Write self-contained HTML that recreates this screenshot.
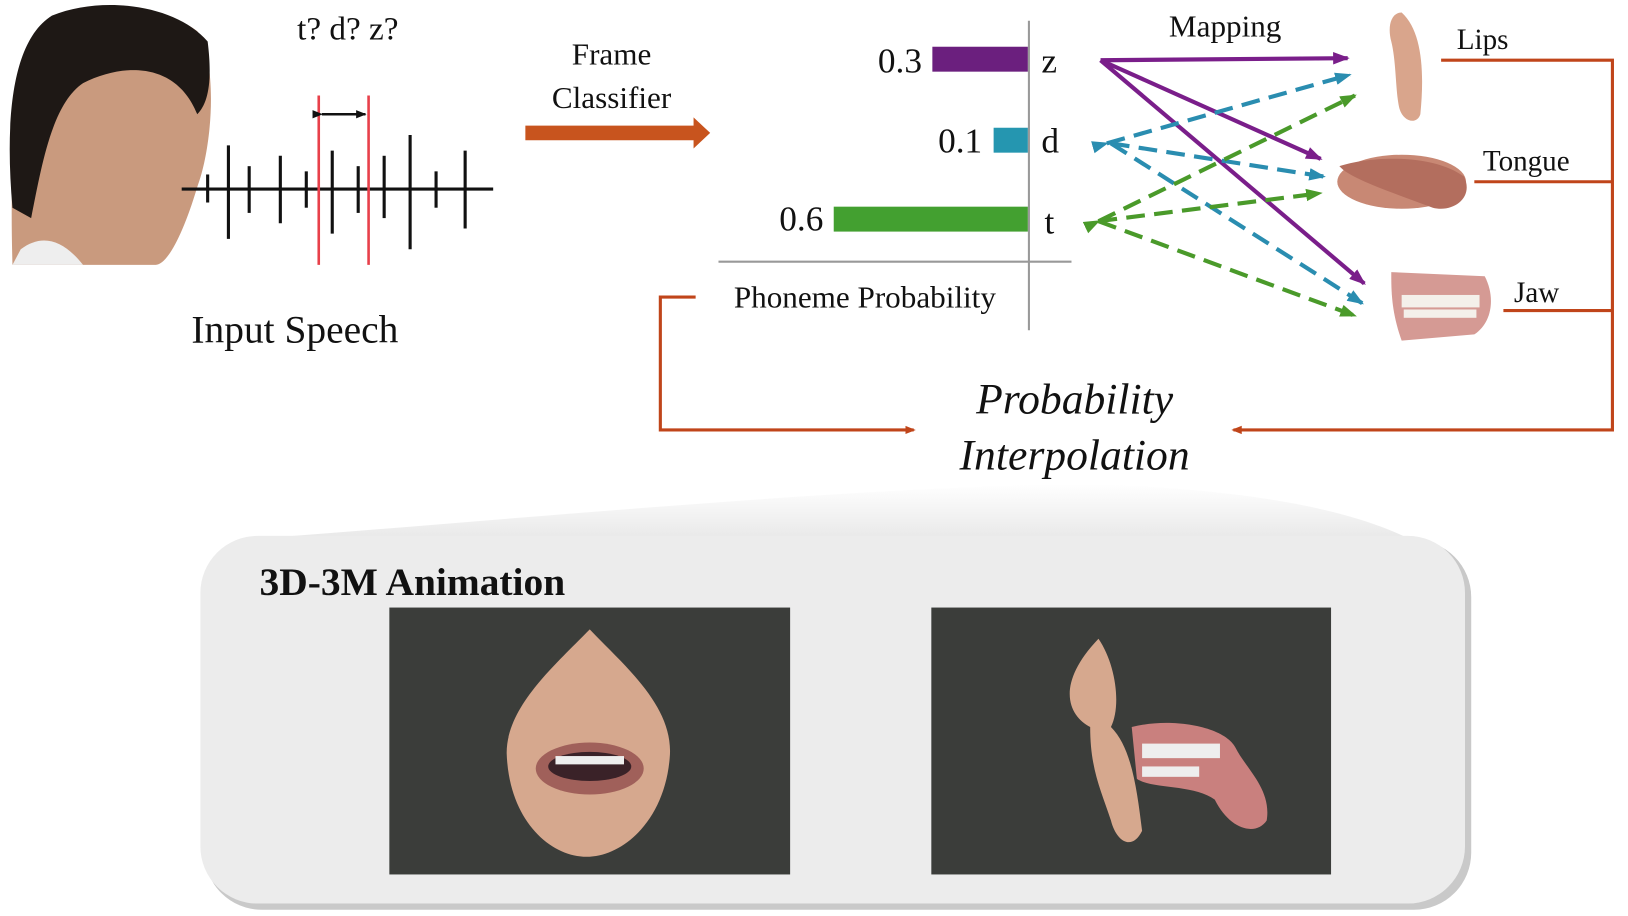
<!DOCTYPE html>
<html><head><meta charset="utf-8"><style>
html,body{margin:0;padding:0;background:#fff;width:1628px;height:916px;overflow:hidden}
svg{display:block}
text{font-family:"Liberation Serif",serif;fill:#111}
</style></head><body>
<svg width="1628" height="916" viewBox="0 0 1568 882" preserveAspectRatio="none" xmlns="http://www.w3.org/2000/svg">
<defs>
<marker id="ao" markerWidth="10" markerHeight="10" refX="8" refY="5" orient="auto" markerUnits="userSpaceOnUse"><path d="M0,1 L10,5 L0,9 z" fill="#c0451a"/></marker>
<marker id="ap" markerWidth="16" markerHeight="14" refX="14" refY="7" orient="auto" markerUnits="userSpaceOnUse"><path d="M0,1 L16,7 L0,13 z" fill="#7a1e8a"/></marker>
<marker id="ab" markerWidth="16" markerHeight="14" refX="14" refY="7" orient="auto" markerUnits="userSpaceOnUse"><path d="M0,1 L16,7 L0,13 z" fill="#2a8db0"/></marker>
<marker id="ag" markerWidth="16" markerHeight="14" refX="14" refY="7" orient="auto" markerUnits="userSpaceOnUse"><path d="M0,1 L16,7 L0,13 z" fill="#4a9a2a"/></marker>
<marker id="ak" markerWidth="10" markerHeight="10" refX="9" refY="5" orient="auto" markerUnits="userSpaceOnUse"><path d="M0,1 L10,5 L0,9 z" fill="#111"/></marker>
<linearGradient id="fan" x1="0" y1="0" x2="0" y2="1"><stop offset="0" stop-color="#fff"/><stop offset="1" stop-color="#e8e8e8"/></linearGradient>
</defs>
<!-- face -->
<path d="M12,255 C10,180 10,80 40,30 C70,0 150,0 190,30 C210,60 205,140 190,180 C175,230 160,255 150,255 Z" fill="#c99a7e"/>
<path d="M12,200 C5,120 10,40 50,15 C100,-5 170,5 200,40 C205,80 200,100 190,110 C170,60 120,60 80,80 C50,100 40,160 30,210 Z" fill="#1e1815"/>
<path d="M20,240 C40,225 60,230 80,255 L12,255 Z" fill="#eee"/>
<!-- waveform -->
<g stroke="#111" stroke-width="3">
<line x1="175" y1="182" x2="475" y2="182"/>
<line x1="220" y1="140" x2="220" y2="230"/><line x1="240" y1="160" x2="240" y2="205"/><line x1="270" y1="150" x2="270" y2="215"/><line x1="295" y1="165" x2="295" y2="200"/><line x1="320" y1="145" x2="320" y2="225"/><line x1="345" y1="160" x2="345" y2="205"/><line x1="370" y1="150" x2="370" y2="210"/><line x1="395" y1="130" x2="395" y2="240"/><line x1="420" y1="165" x2="420" y2="200"/><line x1="448" y1="145" x2="448" y2="220"/><line x1="200" y1="168" x2="200" y2="195"/>
</g>
<line x1="307" y1="92" x2="307" y2="255" stroke="#e8404a" stroke-width="2.5"/>
<line x1="355" y1="92" x2="355" y2="255" stroke="#e8404a" stroke-width="2.5"/>
<line x1="310" y1="110" x2="352" y2="110" stroke="#111" stroke-width="2.5" marker-end="url(#ak)" marker-start="url(#ak)"/>
<text x="335" y="38" font-size="32" text-anchor="middle">t? d? z?</text>
<text x="284" y="330" font-size="38" text-anchor="middle">Input Speech</text>
<!-- frame classifier -->
<text x="589" y="62" font-size="30" text-anchor="middle">Frame</text>
<text x="589" y="104" font-size="30" text-anchor="middle">Classifier</text>
<path d="M506,121 L668,121 L668,113 L684,128 L668,143 L668,135 L506,135 Z" fill="#c8541e"/>
<!-- bars -->
<rect x="898" y="45" width="92" height="24" fill="#6b1f7e"/>
<rect x="957" y="123" width="33" height="24" fill="#2596b0"/>
<rect x="803" y="199" width="187" height="24" fill="#43a030"/>
<line x1="991" y1="20" x2="991" y2="318" stroke="#999" stroke-width="2"/>
<line x1="692" y1="252" x2="1032" y2="252" stroke="#999" stroke-width="2"/>
<text x="888" y="70" font-size="34" text-anchor="end">0.3</text>
<text x="946" y="147" font-size="34" text-anchor="end">0.1</text>
<text x="793" y="222" font-size="34" text-anchor="end">0.6</text>
<text x="1003" y="70" font-size="34">z</text>
<text x="1003" y="147" font-size="34">d</text>
<text x="1006" y="225" font-size="34">t</text>
<text x="833" y="296" font-size="30" text-anchor="middle">Phoneme Probability</text>
<text x="1180" y="35" font-size="30" text-anchor="middle">Mapping</text>
<!-- mapping arrows -->
<g stroke-width="4" fill="none">
<line x1="1060" y1="58" x2="1298" y2="56" stroke="#7a1e8a" marker-end="url(#ap)"/>
<line x1="1060" y1="58" x2="1272" y2="153" stroke="#7a1e8a" marker-end="url(#ap)"/>
<line x1="1060" y1="58" x2="1314" y2="273" stroke="#7a1e8a" marker-end="url(#ap)"/>
<line x1="1066" y1="138" x2="1300" y2="72" stroke="#2a8db0" stroke-dasharray="18,9" marker-start="url(#ab)" marker-end="url(#ab)"/>
<line x1="1070" y1="138" x2="1275" y2="170" stroke="#2a8db0" stroke-dasharray="18,9" marker-end="url(#ab)"/>
<line x1="1070" y1="138" x2="1312" y2="292" stroke="#2a8db0" stroke-dasharray="18,9" marker-end="url(#ab)"/>
<line x1="1058" y1="213" x2="1305" y2="92" stroke="#4a9a2a" stroke-dasharray="18,9" marker-start="url(#ag)" marker-end="url(#ag)"/>
<line x1="1058" y1="213" x2="1272" y2="186" stroke="#4a9a2a" stroke-dasharray="18,9" marker-end="url(#ag)"/>
<line x1="1058" y1="213" x2="1305" y2="304" stroke="#4a9a2a" stroke-dasharray="18,9" marker-end="url(#ag)"/>
</g>
<!-- organs -->
<path d="M1350,12 C1370,30 1372,70 1368,110 C1365,120 1352,118 1348,105 C1344,90 1345,60 1340,40 C1336,25 1340,12 1350,12 Z" fill="#d9a58c"/>
<ellipse cx="1350" cy="175" rx="62" ry="26" fill="#c88874"/>
<path d="M1290,160 C1320,150 1380,148 1410,170 C1420,190 1400,205 1380,200 C1340,185 1300,172 1290,160 Z" fill="#b36e5e"/>
<path d="M1340,262 L1430,266 C1440,285 1438,310 1420,322 L1350,328 C1340,300 1340,280 1340,262 Z" fill="#d59a94"/>
<rect x="1350" y="284" width="75" height="12" fill="#f4f0ea"/>
<rect x="1352" y="298" width="70" height="8" fill="#f4f0ea"/>
<text x="1428" y="47" font-size="28" text-anchor="middle">Lips</text>
<text x="1470" y="164" font-size="28" text-anchor="middle">Tongue</text>
<text x="1480" y="291" font-size="28" text-anchor="middle">Jaw</text>
<!-- orange connectors -->
<g stroke="#c0451a" stroke-width="3" fill="none">
<polyline points="1388,58 1553,58 1553,414 1188,414" marker-end="url(#ao)"/>
<line x1="1420" y1="175" x2="1553" y2="175"/>
<line x1="1448" y1="299" x2="1553" y2="299"/>
<polyline points="670,286 636,286 636,414 880,414" marker-end="url(#ao)"/>
</g>
<text x="1035" y="398" font-size="42" font-style="italic" text-anchor="middle">Probability</text>
<text x="1035" y="452" font-size="42" font-style="italic" text-anchor="middle">Interpolation</text>
<!-- fan + panel -->
<path d="M230,520 C500,500 800,470 1040,466 C1200,470 1300,490 1360,520 Z" fill="url(#fan)"/>
<rect x="197" y="520" width="1220" height="356" rx="55" fill="#c9c9c9"/>
<rect x="193" y="516" width="1218" height="354" rx="55" fill="#ececec"/>
<text x="250" y="573" font-size="38" font-weight="bold">3D-3M Animation</text>
<rect x="375" y="585" width="386" height="257" fill="#3b3d3a"/>
<rect x="897" y="585" width="385" height="257" fill="#3b3d3a"/>
<path d="M568,606 C600,640 650,680 645,730 C640,790 600,825 565,825 C530,825 490,790 488,725 C488,680 535,640 568,606 Z" fill="#d6a88e"/>
<ellipse cx="568" cy="740" rx="52" ry="25" fill="#a0605a"/>
<ellipse cx="568" cy="738" rx="40" ry="14" fill="#3a2228"/>
<rect x="535" y="728" width="66" height="8" fill="#eee"/>
<path d="M1058,615 C1075,640 1080,680 1070,700 C1090,720 1095,760 1100,800 C1090,820 1075,810 1070,790 C1060,760 1050,740 1050,700 C1030,690 1015,660 1058,615 Z" fill="#d6a88e"/>
<path d="M1090,700 C1130,690 1180,700 1190,720 C1200,740 1225,760 1220,790 C1210,805 1185,800 1170,770 C1150,755 1110,760 1095,750 Z" fill="#c9807e"/>
<rect x="1100" y="716" width="75" height="14" fill="#eee"/>
<rect x="1100" y="738" width="55" height="10" fill="#eee"/>
</svg>
</body></html>
